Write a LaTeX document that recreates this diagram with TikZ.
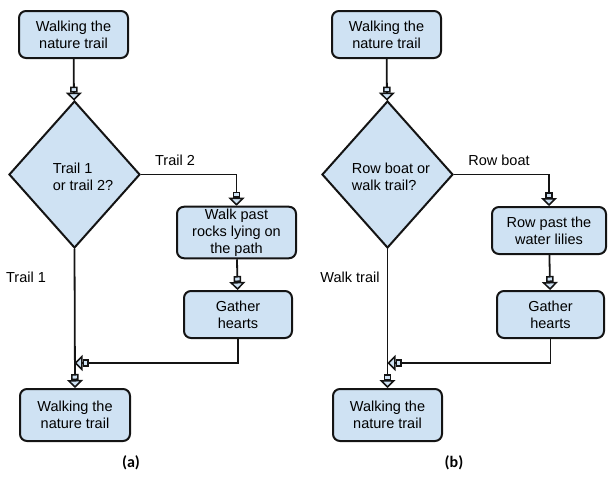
\documentclass[tikz,border=0pt]{standalone}
\usepackage{fontspec}
\setmainfont{Liberation Sans}
\newfontfamily\capfont{Carlito}
\usetikzlibrary{shapes.geometric,arrows.meta}
\definecolor{boxblue}{RGB}{207,226,243}
\definecolor{edge}{RGB}{20,20,20}

\tikzset{
  box/.style={draw=edge, fill=boxblue, line width=2pt, rounded corners=7pt,
    align=center, inner sep=2pt},
  decision/.style={draw=edge, fill=boxblue, line width=2pt, shape=diamond,
    minimum width=131pt, minimum height=147pt, inner sep=0pt},
  conn/.style={draw=edge, line width=1.8pt},
  flow/.style={conn, -{Rectangle[length=6pt,width=7.5pt,fill=boxblue,line width=1.5pt,sep=0pt]
    Triangle[length=8pt,width=16pt,fill=boxblue,line width=1.5pt]}},
  lbl/.style={align=left, inner sep=0pt}
}

\begin{document}
\begin{tikzpicture}[x=1pt, y=-1pt, font=\fontsize{14.5}{17}\selectfont]
  \useasboundingbox (0,0) rectangle (616,479);

  % (a)
  \node[box, minimum width=109pt, minimum height=47pt] (topA) at (73.5,34.5) {Walking the\\nature trail};
  \node[decision] (decA) at (74.5,174.5) {};
  \node[lbl] (decAtxt) at (83,176.5) {Trail 1\\or trail 2?};
  \node[box, minimum width=119pt, minimum height=51pt] (rocks) at (236.5,232.5) {Walk past\\rocks lying on\\the path};
  \node[box, minimum width=108pt, minimum height=47pt] (gatherA) at (238,314.5) {Gather\\hearts};
  \node[box, minimum width=110pt, minimum height=52pt] (endA) at (75,415) {Walking the\\nature trail};
  \coordinate (joinA) at (74.5,363);
  \node[lbl] (trail2) at (175,160) {Trail 2};
  \node[lbl] (trail1) at (26,277) {Trail 1};
  \node (capA) at (131,463) {\capfont\bfseries\fontsize{16}{18}\selectfont (a)};

  \draw[flow] (topA) -- (decA);
  \draw[flow] (decA.east) -| (rocks.north);
  \draw[flow] (rocks) -- (gatherA);
  \draw[flow] (gatherA.south) |- (joinA);
  \draw[flow] (decA.south) -- (endA.north);

  % (b)
  \node[box, minimum width=109pt, minimum height=47pt] (topB) at (386.5,34.5) {Walking the\\nature trail};
  \node[decision] (decB) at (387.5,174.5) {};
  \node[lbl] (decBtxt) at (391,176.5) {Row boat or\\walk trail?};
  \node[box, minimum width=114pt, minimum height=47pt] (lilies) at (549,230.5) {Row past the\\water lilies};
  \node[box, minimum width=107pt, minimum height=47pt] (gatherB) at (550.5,314.5) {Gather\\hearts};
  \node[box, minimum width=109pt, minimum height=52pt] (endB) at (387.5,415) {Walking the\\nature trail};
  \coordinate (joinB) at (387.5,363);
  \node[lbl] (rowboat) at (499,160) {Row boat};
  \node[lbl] (walktrail) at (350,277) {Walk trail};
  \node (capB) at (454,463) {\capfont\bfseries\fontsize{16}{18}\selectfont (b)};

  \draw[flow] (topB) -- (decB);
  \draw[flow] (decB.east) -| (lilies.north);
  \draw[flow] (lilies) -- (gatherB);
  \draw[flow] (gatherB.south) |- (joinB);
  \draw[flow] (decB.south) -- (endB.north);
\end{tikzpicture}
\end{document}
